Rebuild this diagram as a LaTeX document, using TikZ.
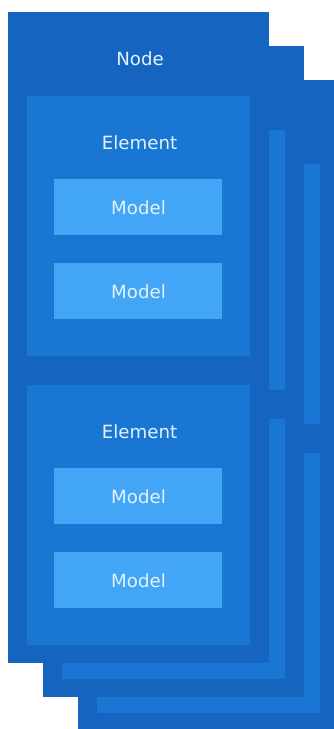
\documentclass[tikz,border=0pt]{standalone}
\usepackage{fontspec}
\setmainfont{DejaVu Sans}
\definecolor{nodeblue}{HTML}{1565C0}
\definecolor{elemblue}{HTML}{1976D2}
\definecolor{modelblue}{HTML}{42A5F5}
\definecolor{labeltext}{HTML}{E3F2FD}
\tikzset{
  box/.style={rectangle, inner sep=0pt, outer sep=0pt, anchor=north west, draw=none},
  nodebox/.style={box, fill=nodeblue, minimum width=261pt, minimum height=651pt},
  elembox/.style={box, fill=elemblue, minimum width=223pt, minimum height=260pt},
  modelbox/.style={box, fill=modelblue, minimum width=168pt, minimum height=56pt},
  lbl/.style={text=labeltext, font=\fontsize{18.2}{21}\selectfont, anchor=base, inner sep=0pt},
}
\begin{document}
\begin{tikzpicture}[x=1pt,y=-1pt]
  \useasboundingbox (0,0) rectangle (334,729);
  \clip (0,0) rectangle (334,729);

  % stacked copies behind the front node
  \foreach \dx/\dy/\n in {70/68/c, 35/34/b} {
    \node[nodebox] (node\n) at (8+\dx,12+\dy) {};
    \node[elembox] (elemA\n) at (27+\dx,96+\dy) {};
    \node[elembox] (elemB\n) at (27+\dx,385+\dy) {};
  }

  % front node
  \node[nodebox] (nodea) at (8,12) {};
  \node[lbl] (nodelabel) at (140,65.4) {Node};

  % first element
  \node[elembox] (elemAa) at (27,96) {};
  \node[lbl] (elemAlabel) at (139.5,149.2) {Element};
  \node[modelbox] (modelA1) at (54,179) {};
  \node[lbl] (modelA1label) at (138.5,214.7) {Model};
  \node[modelbox] (modelA2) at (54,263) {};
  \node[lbl] (modelA2label) at (138.5,298.7) {Model};

  % second element
  \node[elembox] (elemBa) at (27,385) {};
  \node[lbl] (elemBlabel) at (139.5,438.2) {Element};
  \node[modelbox] (modelB1) at (54,468) {};
  \node[lbl] (modelB1label) at (138.5,503.7) {Model};
  \node[modelbox] (modelB2) at (54,552) {};
  \node[lbl] (modelB2label) at (138.5,587.7) {Model};
\end{tikzpicture}
\end{document}
